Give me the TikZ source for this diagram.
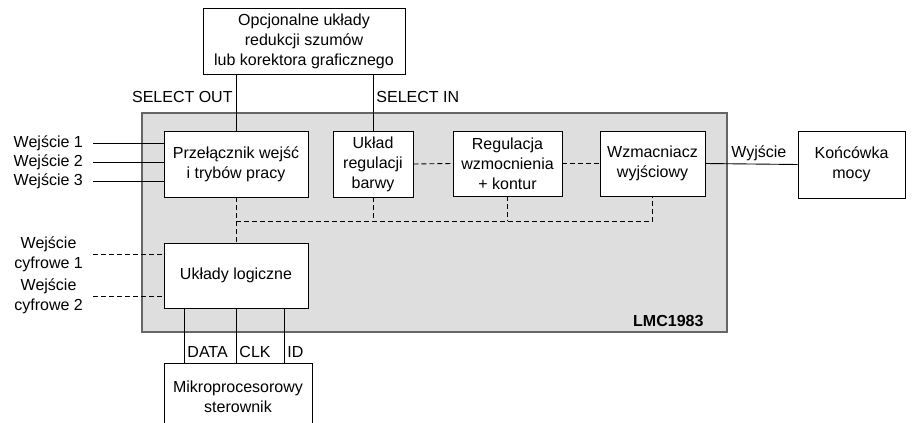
\documentclass[tikz,border=0pt]{standalone}
\usepackage{fontspec}
\setmainfont{Liberation Sans}
\usetikzlibrary{positioning,calc}

\begin{document}
\begin{tikzpicture}[x=1pt, y=-1pt,
  font=\fontsize{16}{20}\selectfont,
  block/.style={draw, fill=white, line width=0.9pt, align=center, inner sep=0pt},
  chip/.style={draw=black!60, fill=black!13, line width=1.3pt,
    minimum width=585pt, minimum height=219pt, inner sep=0pt},
  edge/.style={line width=0.9pt},
  bus/.style={line width=0.9pt, dash pattern=on 5pt off 3pt},
  lbl/.style={inner sep=3pt},
  inlbl/.style={anchor=east, inner xsep=10pt, inner ysep=0pt, align=center}
]
  \useasboundingbox (0,0) rectangle (916,423);
  \clip (0,0) rectangle (916,423);

  % Chip outline
  \node[chip] (lmc) at (434.5,222.5) {};
  \node[font=\fontsize{16}{20}\selectfont\bfseries, anchor=south east, inner sep=0pt]
    (lmcname) at ($(lmc.south east)+(-24,-6)$) {LMC1983};

  % Blocks
  \node[block, minimum width=202pt, minimum height=66pt] (opt) at (304,41)
    {Opcjonalne układy\\redukcji szumów\\lub korektora graficznego};
  \node[block, minimum width=144pt, minimum height=66pt] (przel) at (236,164)
    {Przełącznik wejść\\i trybów pracy};
  \node[block, minimum width=80pt, minimum height=66pt] (uklad) at (373,164)
    {Układ\\regulacji\\barwy};
  \node[block, minimum width=109pt, minimum height=65pt] (reg) at (507.5,163.5)
    {Regulacja\\wzmocnienia\\+ kontur};
  \node[block, minimum width=105pt, minimum height=65pt] (wzm) at (652.5,163.5)
    {Wzmacniacz\\wyjściowy};
  \node[block, minimum width=107pt, minimum height=67pt] (konc) at (851.5,164.5)
    {Końcówka\\mocy};
  \node[block, minimum width=144pt, minimum height=65pt] (logic) at (236,275.5)
    {Układy logiczne};
  \node[block, minimum width=148pt, minimum height=68pt] (mikro) at (238,397)
    {Mikroprocesorowy\\sterownik};

  % Input labels
  \node[inlbl] (in1) at (93,143) {Wejście 1};
  \node[inlbl] (in2) at (93,162) {Wejście 2};
  \node[inlbl] (in3) at (93,181) {Wejście 3};
  \node[inlbl] (dig1) at (93,254) {Wejście\\cyfrowe 1};
  \node[inlbl] (dig2) at (93,296) {Wejście\\cyfrowe 2};

  % Analog connections
  \draw[edge] (in1.east) -- (in1.east -| przel.west);
  \draw[edge] (in2.east) -- (in2.east -| przel.west);
  \draw[edge] (in3.east) -- (in3.east -| przel.west);
  \draw[edge] (opt.south -| przel.north) -- node[lbl, pos=0.4, left] {SELECT OUT} (przel.north);
  \draw[edge] (opt.south -| uklad.north) -- node[lbl, pos=0.4, right] {SELECT IN} (uklad.north);
  \draw[bus] (uklad.east) -- (reg.west);
  \draw[bus] (reg.east) -- (wzm.west);
  \draw[edge] (wzm.east) -- node[lbl, pos=0.58, above] {Wyjście} (konc.west);

  % Control bus
  \coordinate (busL) at (236,221);
  \draw[bus] (przel.south) -- (logic.north);
  \draw[bus] (busL) -| (wzm.south);
  \draw[bus] (uklad.south) -- (uklad.south |- busL);
  \draw[bus] (reg.south) -- (reg.south |- busL);
  \draw[bus] (dig1.east) -- (dig1.east -| logic.west);
  \draw[bus] (dig2.east) -- (dig2.east -| logic.west);

  % Serial interface
  \draw[edge] ([xshift=-52pt]logic.south) -- node[lbl, pos=0.8, right] {DATA} ([xshift=-54pt]mikro.north);
  \draw[edge] (logic.south) -- node[lbl, pos=0.8, right] {CLK} ([xshift=-2pt]mikro.north);
  \draw[edge] ([xshift=48pt]logic.south) -- node[lbl, pos=0.8, right] {ID} ([xshift=46pt]mikro.north);

\end{tikzpicture}
\end{document}
